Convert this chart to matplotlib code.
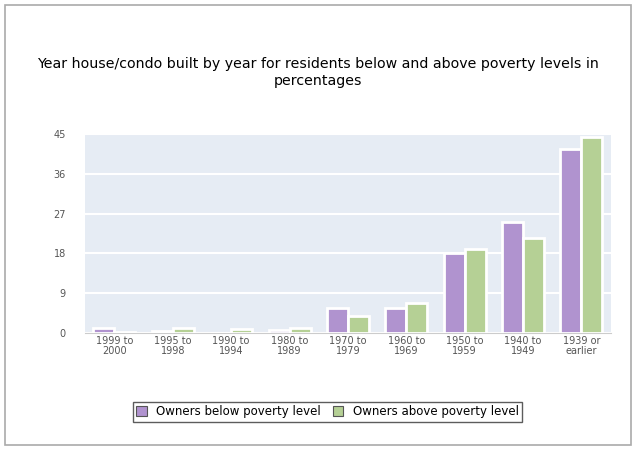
import matplotlib
matplotlib.use('agg')
import matplotlib.pyplot as plt
import numpy as np
from matplotlib.patches import Rectangle

categories = ['1999 to\n2000', '1995 to\n1998', '1990 to\n1994', '1980 to\n1989', '1970 to\n1979',
              '1960 to\n1969', '1950 to\n1959', '1940 to\n1949', '1939 or\nearlier']
below = [1.0, 0.4, 0.0, 0.6, 5.7, 5.7, 18.2, 25.2, 41.6]
above = [0.2, 1.0, 0.9, 1.0, 3.9, 6.8, 18.9, 21.6, 44.5]
yticks = [0, 9, 18, 27, 36, 45]

fig = plt.figure(figsize=(6.36, 4.51), dpi=100)
fig.patches.append(Rectangle((0.008, 0.013), 0.984, 0.975, transform=fig.transFigure,
                             fill=False, edgecolor='#aaaaaa', linewidth=1.2))
ax = fig.add_axes([0.134, 0.262, 0.826, 0.44])
ax.set_facecolor('#e6ecf4')
x = np.arange(len(categories))
w = 0.36
ax.bar(x - w / 2, below, w, color='#b093cf', edgecolor='white', linewidth=2, label='Owners below poverty level', zorder=3)
ax.bar(x + w / 2, above, w, color='#b5d095', edgecolor='white', linewidth=2, label='Owners above poverty level', zorder=3)
ax.set_xlim(-0.5, len(categories) - 0.5)
ax.set_ylim(0, 45)
ax.set_yticks(yticks)
ax.yaxis.grid(True, color='white', linewidth=1.5, zorder=0)
ax.set_xticks(x)
ax.set_xticklabels(categories, fontsize=7, color='#555555', linespacing=1.0)
ax.tick_params(axis='y', labelsize=7, colors='#555555', length=0, pad=14)
ax.tick_params(axis='x', length=0, pad=2)
for s in ax.spines.values():
    s.set_visible(False)
ax.spines['bottom'].set_visible(True)
ax.spines['bottom'].set_color('#cccccc')

fig.text(0.5, 0.84, 'Year house/condo built by year for residents below and above poverty levels in\npercentages',
         ha='center', va='center', fontsize=10.2, linespacing=1.3)
leg = fig.legend(loc='center', bbox_to_anchor=(0.515, 0.087), ncol=2, fontsize=8.5, frameon=True,
                 fancybox=False, edgecolor='#333333', handlelength=0.9, handleheight=0.9,
                 columnspacing=1.0, borderpad=0.3)
for h in leg.legend_handles:
    h.set_edgecolor('#555555')
    h.set_linewidth(0.8)

fig.savefig('out.png', dpi=100)
